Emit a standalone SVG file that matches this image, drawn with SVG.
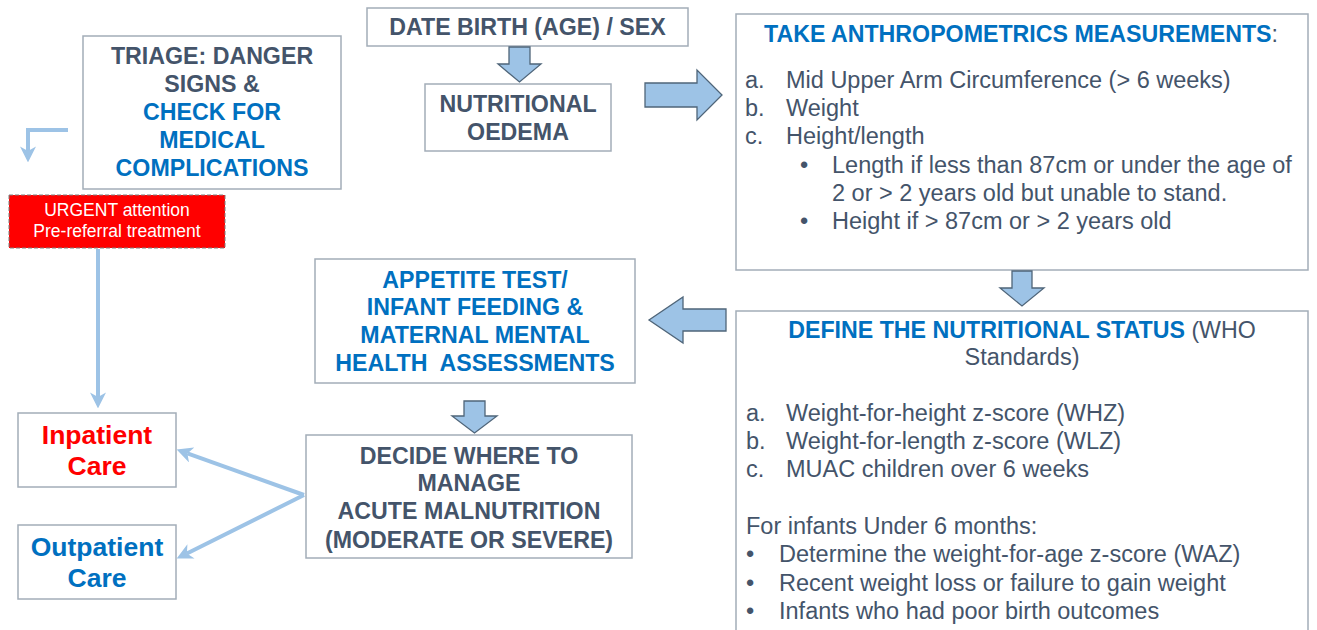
<svg xmlns="http://www.w3.org/2000/svg" width="1317" height="630" viewBox="0 0 1317 630">
<style>
.box{fill:#fff;stroke:#A3ADB8;stroke-width:1.5}
.t{font-family:"Liberation Sans",Arial,sans-serif;font-weight:bold;font-size:23.2px;fill:#44546A;text-anchor:middle}
.big{font-size:26.5px}
.b{fill:#0070C0}
.r{fill:#FF0000}
.body{font-family:"Liberation Sans",Arial,sans-serif;font-size:23.5px;fill:#44546A}
.blk{fill:#9DC3E6;stroke:#4F6579;stroke-width:1.3;stroke-linejoin:miter}
.ln{fill:none;stroke:#9DC3E6;stroke-width:4}
</style>
<defs>
<marker id="ah" markerUnits="userSpaceOnUse" markerWidth="16" markerHeight="16" viewBox="0 0 14 14" refX="4" refY="7" orient="auto">
<path d="M0,0 L14,7 L0,14 L4,7 z" fill="#9DC3E6"/>
</marker>
</defs>
<rect width="1317" height="630" fill="#fff"/>

<g id="triage">
<rect class="box" x="83" y="36" width="258" height="153"/>
<text class="t" x="212" y="64">TRIAGE: DANGER</text>
<text class="t" x="212" y="92">SIGNS &amp;</text>
<text class="t b" x="212" y="120">CHECK FOR</text>
<text class="t b" x="212" y="148">MEDICAL</text>
<text class="t b" x="212" y="176">COMPLICATIONS</text>
</g>

<g id="urgent">
<rect x="9" y="195" width="216" height="53" fill="#FF0000" stroke="#7F7F7F" stroke-width="1" stroke-dasharray="4,2"/>
<text x="117" y="216" font-family="'Liberation Sans',Arial,sans-serif" font-size="17.5" fill="#fff" text-anchor="middle">URGENT attention</text>
<text x="117" y="237" font-family="'Liberation Sans',Arial,sans-serif" font-size="17.5" fill="#fff" text-anchor="middle">Pre-referral treatment</text>
</g>

<g id="date">
<rect class="box" x="367" y="8" width="321" height="38"/>
<text class="t" x="527.5" y="35">DATE BIRTH (AGE) / SEX</text>
</g>

<g id="oedema">
<rect class="box" x="425" y="84" width="186" height="67"/>
<text class="t" x="518" y="112">NUTRITIONAL</text>
<text class="t" x="518" y="140">OEDEMA</text>
</g>

<g id="anthropometrics">
<rect class="box" x="736" y="14" width="572" height="256"/>
<text class="t" x="1021" y="42"><tspan class="b">TAKE ANTHROPOMETRICS MEASUREMENTS</tspan><tspan font-weight="normal">:</tspan></text>
<text class="body" x="745" y="88">a.</text><text class="body" x="786" y="88">Mid Upper Arm Circumference (&gt; 6 weeks)</text>
<text class="body" x="745" y="116">b.</text><text class="body" x="786" y="116">Weight</text>
<text class="body" x="745" y="144">c.</text><text class="body" x="786" y="144">Height/length</text>
<text class="body" x="800" y="173">•</text><text class="body" x="832" y="173">Length if less than 87cm or under the age of</text>
<text class="body" x="832" y="201">2 or &gt; 2 years old but unable to stand.</text>
<text class="body" x="800" y="229">•</text><text class="body" x="832" y="229">Height if &gt; 87cm or &gt; 2 years old</text>
</g>

<g id="status">
<rect class="box" x="736" y="311" width="572" height="330"/>
<text class="t" x="1022" y="338"><tspan class="b">DEFINE THE NUTRITIONAL STATUS</tspan><tspan font-weight="normal"> (WHO</tspan></text>
<text class="body" x="1022" y="365" text-anchor="middle">Standards)</text>
<text class="body" x="746" y="421">a.</text><text class="body" x="786" y="421">Weight-for-height z-score (WHZ)</text>
<text class="body" x="746" y="449">b.</text><text class="body" x="786" y="449">Weight-for-length z-score (WLZ)</text>
<text class="body" x="746" y="477">c.</text><text class="body" x="786" y="477">MUAC children over 6 weeks</text>
<text class="body" x="746" y="534">For infants Under 6 months:</text>
<text class="body" x="746" y="562">•</text><text class="body" x="779" y="562">Determine the weight-for-age z-score (WAZ)</text>
<text class="body" x="746" y="591">•</text><text class="body" x="779" y="591">Recent weight loss or failure to gain weight</text>
<text class="body" x="746" y="619">•</text><text class="body" x="779" y="619">Infants who had poor birth outcomes</text>
</g>

<g id="appetite">
<rect class="box" x="315" y="259" width="320" height="124"/>
<text class="t b" x="475" y="288">APPETITE TEST/</text>
<text class="t b" x="475" y="315">INFANT FEEDING &amp;</text>
<text class="t b" x="475" y="343">MATERNAL MENTAL</text>
<text class="t b" x="475" y="371" xml:space="preserve">HEALTH  ASSESSMENTS</text>
</g>

<g id="decide">
<rect class="box" x="306" y="435" width="326" height="123"/>
<text class="t" x="469" y="464">DECIDE WHERE TO</text>
<text class="t" x="469" y="491">MANAGE</text>
<text class="t" x="469" y="519">ACUTE MALNUTRITION</text>
<text class="t" x="469" y="548">(MODERATE OR SEVERE)</text>
</g>

<g id="inpatient">
<rect class="box" x="18" y="413" width="158" height="74"/>
<text class="t r big" x="97" y="444">Inpatient</text>
<text class="t r big" x="97" y="475">Care</text>
</g>

<g id="outpatient">
<rect class="box" x="18" y="525" width="158" height="74"/>
<text class="t b big" x="97" y="556">Outpatient</text>
<text class="t b big" x="97" y="587">Care</text>
</g>

<g id="connectors">
<polygon class="blk" points="509,47 530,47 530,64 541,64 519.5,82 498,64 509,64"/>
<polygon class="blk" points="645,83 697,83 697,70 722,95 697,120 697,107 645,107"/>
<polygon class="blk" points="1012,271 1032,271 1032,288 1044,288 1022,306 1000,288 1012,288"/>
<polygon class="blk" points="726,309 683,309 683,297 649,320 683,343 683,331 726,331"/>
<polygon class="blk" points="464,401 485,401 485,416 497,416 474.5,433 452,416 464,416"/>
<path class="ln" d="M68,130 H28 V151" marker-end="url(#ah)"/>
<path class="ln" d="M98,249 V397" marker-end="url(#ah)"/>
<path class="ln" d="M304,495 L187.4,453.4" marker-end="url(#ah)"/>
<path class="ln" d="M304,495 L186.9,553.5" marker-end="url(#ah)"/>
</g>
</svg>
